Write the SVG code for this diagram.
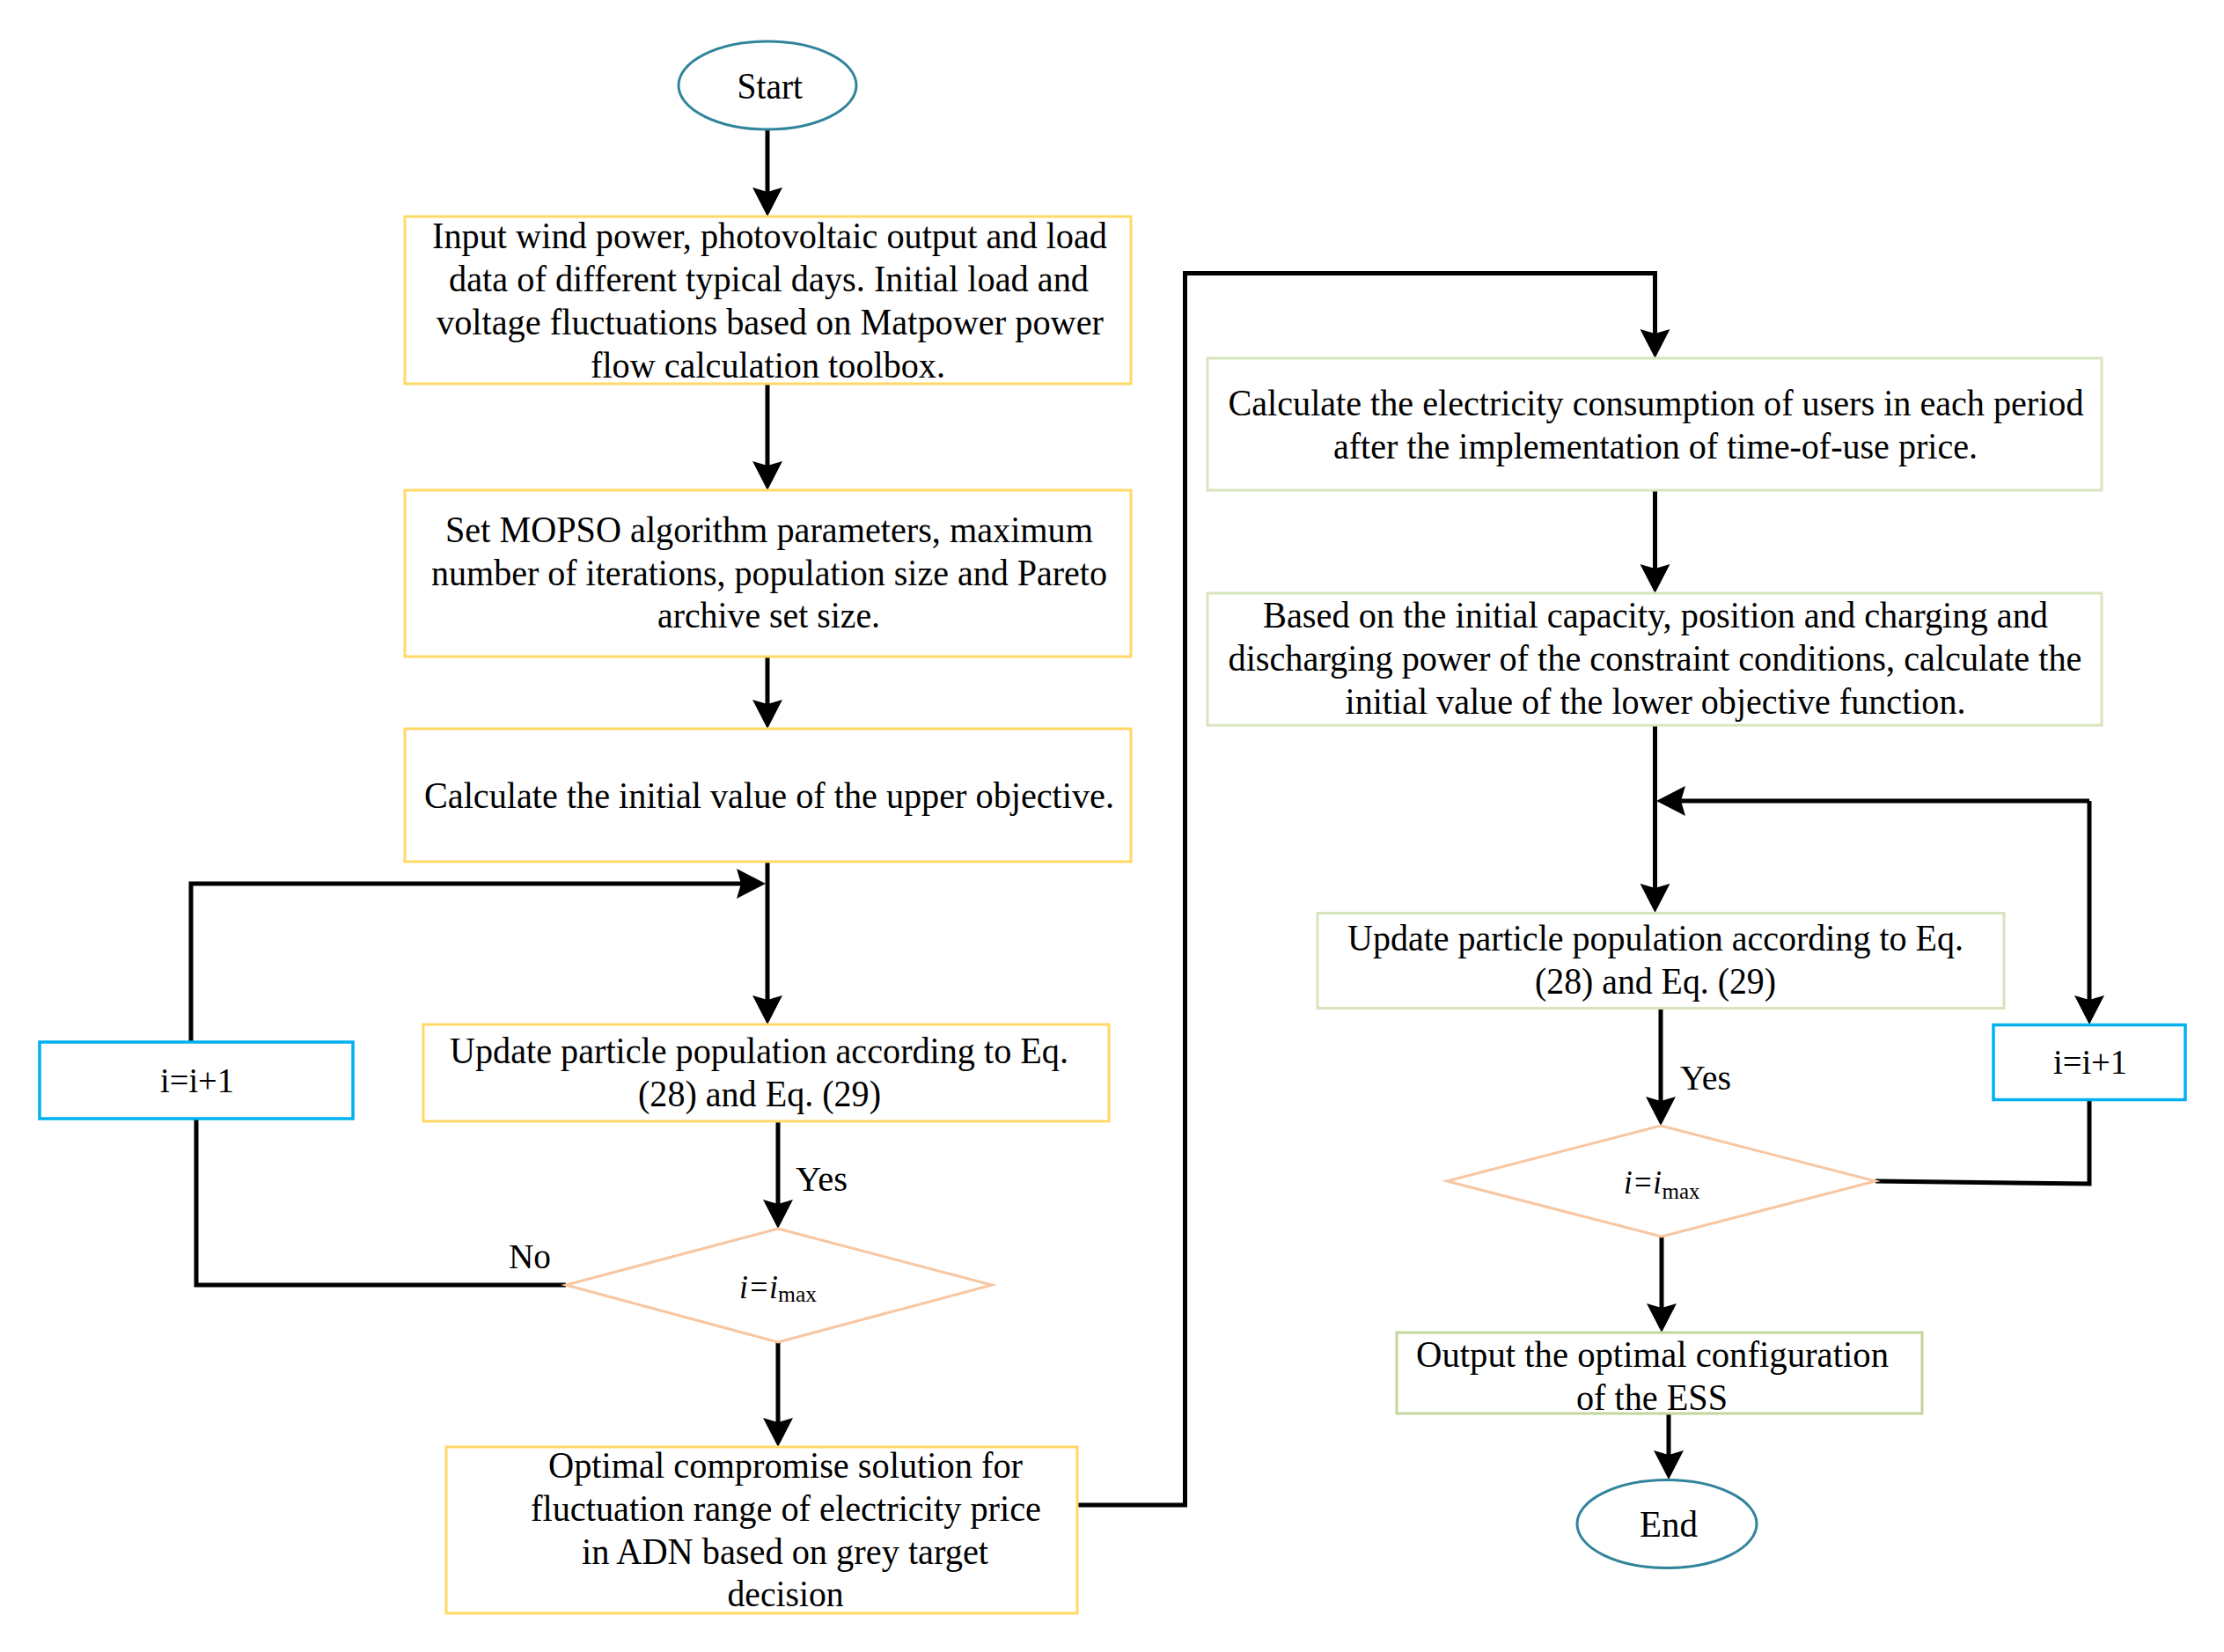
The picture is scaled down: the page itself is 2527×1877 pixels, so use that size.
<svg xmlns="http://www.w3.org/2000/svg" width="2527" height="1877" viewBox="0 0 2527 1877">
<style>
  text { font-family: "Liberation Serif", "Times New Roman", serif; fill: #000; }
  .t { font-size: 42px; }
  .lbl { font-size: 40px; }
  .yel { fill: #fff; stroke: #FFD966; stroke-width: 3; }
  .grn { fill: #fff; stroke: #D7E4BD; stroke-width: 3; }
  .grn2 { fill: #fff; stroke: #C3D69B; stroke-width: 3; }
  .blu { fill: #fff; stroke: #00B0F0; stroke-width: 3.5; }
  .dia { fill: #fff; stroke: #F8C6A0; stroke-width: 3; }
  .ell { fill: #fff; stroke: #31849B; stroke-width: 3; }
  .c { fill: none; stroke: #000; stroke-width: 5; }
  .a { marker-end: url(#ah); }
  .it { font-style: italic; font-size: 38px; }
  .sub { font-size: 26px; }
</style>
<defs>
  <marker id="ah" viewBox="0 0 40 40" markerWidth="40" markerHeight="40" refX="23" refY="17" orient="auto" markerUnits="userSpaceOnUse">
    <path d="M0,0 L33,17 L0,34 L5,17 z" fill="#000"/>
  </marker>
</defs>
<rect width="2527" height="1877" fill="#fff"/>

<g id="connectors">
  <path class="c a" d="M872,147 V236"/>
  <path class="c a" d="M872,436 V547"/>
  <path class="c a" d="M872,746 V818"/>
  <path class="c a" d="M872,979 V1154"/>
  <path class="c a" d="M217,1183 V1004 H860"/>
  <path class="c a" d="M884,1274 V1386"/>
  <path class="c a" d="M884,1525 V1634"/>
  <path class="c" d="M643,1460 H223 V1271"/>
  <path class="c a" d="M1224,1710 H1346.5 V310.5 H1880.5 V397"/>
  <path class="c a" d="M1880.5,557 V664"/>
  <path class="c a" d="M1880.5,824 V1027"/>
  <path class="c a" d="M2374,910 V1154"/>
  <path class="c a" d="M2374,910 H1892"/>
  <path class="c" d="M2131,1342 L2374,1345 V1250"/>
  <path class="c a" d="M1887,1146 V1269"/>
  <path class="c a" d="M1888,1405 V1504"/>
  <path class="c a" d="M1896,1606 V1671"/>
  <text class="lbl" x="904" y="1353" textLength="59" lengthAdjust="spacingAndGlyphs">Yes</text>
  <text class="lbl" x="578" y="1441" textLength="48" lengthAdjust="spacingAndGlyphs">No</text>
  <text class="lbl" x="1909" y="1238" textLength="58" lengthAdjust="spacingAndGlyphs">Yes</text>
</g>

<g id="start">
  <ellipse class="ell" cx="872" cy="97" rx="101" ry="50"/>
  <text class="t" x="837.5" y="112" textLength="74.5" lengthAdjust="spacingAndGlyphs">Start</text>
</g>

<g id="input">
  <rect class="yel" x="460" y="246" width="825" height="190"/>
  <text class="t" x="491" y="282" textLength="767" lengthAdjust="spacingAndGlyphs">Input wind power, photovoltaic output and load</text>
  <text class="t" x="510" y="331" textLength="727" lengthAdjust="spacingAndGlyphs">data of different typical days. Initial load and</text>
  <text class="t" x="496" y="380" textLength="758" lengthAdjust="spacingAndGlyphs">voltage fluctuations based on Matpower power</text>
  <text class="t" x="671" y="429" textLength="403" lengthAdjust="spacingAndGlyphs">flow calculation toolbox.</text>
</g>

<g id="mopso">
  <rect class="yel" x="460" y="557" width="825" height="189"/>
  <text class="t" x="506" y="616" textLength="736" lengthAdjust="spacingAndGlyphs">Set MOPSO algorithm parameters, maximum</text>
  <text class="t" x="490" y="665" textLength="768" lengthAdjust="spacingAndGlyphs">number of iterations, population size and Pareto</text>
  <text class="t" x="747" y="713" textLength="253" lengthAdjust="spacingAndGlyphs">archive set size.</text>
</g>

<g id="upper">
  <rect class="yel" x="460" y="828" width="825" height="151"/>
  <text class="t" x="482" y="918" textLength="784" lengthAdjust="spacingAndGlyphs">Calculate the initial value of the upper objective.</text>
</g>

<g id="update1">
  <rect class="yel" x="481" y="1164" width="779" height="110"/>
  <text class="t" x="511" y="1208" textLength="703" lengthAdjust="spacingAndGlyphs">Update particle population according to Eq.</text>
  <text class="t" x="725" y="1257" textLength="276" lengthAdjust="spacingAndGlyphs">(28) and Eq. (29)</text>
</g>

<g id="inc1">
  <rect class="blu" x="45" y="1184" width="356" height="87"/>
  <text class="lbl" x="182" y="1241" textLength="84" lengthAdjust="spacingAndGlyphs">i=i+1</text>
</g>

<g id="decision1">
  <polygon class="dia" points="884,1396 1127,1460 884,1525 643,1460"/>
  <text class="it" x="840" y="1475" textLength="44" lengthAdjust="spacingAndGlyphs">i=i</text>
  <text class="sub" x="884" y="1479" textLength="44" lengthAdjust="spacingAndGlyphs">max</text>
</g>

<g id="compromise">
  <rect class="yel" x="507" y="1644" width="717" height="189"/>
  <text class="t" x="623" y="1679" textLength="539" lengthAdjust="spacingAndGlyphs">Optimal compromise solution for</text>
  <text class="t" x="603" y="1728" textLength="580" lengthAdjust="spacingAndGlyphs">fluctuation range of electricity price</text>
  <text class="t" x="661" y="1777" textLength="462" lengthAdjust="spacingAndGlyphs">in ADN based on grey target</text>
  <text class="t" x="826.5" y="1825" textLength="132" lengthAdjust="spacingAndGlyphs">decision</text>
</g>

<g id="consumption">
  <rect class="grn" x="1372" y="407" width="1016" height="150"/>
  <text class="t" x="1395.5" y="472" textLength="972" lengthAdjust="spacingAndGlyphs">Calculate the electricity consumption of users in each period</text>
  <text class="t" x="1515" y="521" textLength="732" lengthAdjust="spacingAndGlyphs">after the implementation of time-of-use price.</text>
</g>

<g id="lower">
  <rect class="grn" x="1372" y="674" width="1016" height="150"/>
  <text class="t" x="1435" y="713" textLength="892" lengthAdjust="spacingAndGlyphs">Based on the initial capacity, position and charging and</text>
  <text class="t" x="1395.5" y="762" textLength="970" lengthAdjust="spacingAndGlyphs">discharging power of the constraint conditions, calculate the</text>
  <text class="t" x="1528.5" y="811" textLength="705" lengthAdjust="spacingAndGlyphs">initial value of the lower objective function.</text>
</g>

<g id="update2">
  <rect class="grn" x="1497" y="1037.5" width="780" height="108"/>
  <text class="t" x="1531" y="1080" textLength="700" lengthAdjust="spacingAndGlyphs">Update particle population according to Eq.</text>
  <text class="t" x="1744" y="1129" textLength="274" lengthAdjust="spacingAndGlyphs">(28) and Eq. (29)</text>
</g>

<g id="inc2">
  <rect class="blu" x="2265" y="1164.5" width="218" height="85"/>
  <text class="lbl" x="2333" y="1220" textLength="84" lengthAdjust="spacingAndGlyphs">i=i+1</text>
</g>

<g id="decision2">
  <polygon class="dia" points="1887,1279 2131,1342 1888,1405 1644,1342"/>
  <text class="it" x="1845" y="1356" textLength="43" lengthAdjust="spacingAndGlyphs">i=i</text>
  <text class="sub" x="1888.5" y="1362" textLength="43" lengthAdjust="spacingAndGlyphs">max</text>
</g>

<g id="output">
  <rect class="grn2" x="1587" y="1514" width="597" height="92"/>
  <text class="t" x="1609" y="1553" textLength="537" lengthAdjust="spacingAndGlyphs">Output the optimal configuration</text>
  <text class="t" x="1791" y="1602" textLength="172" lengthAdjust="spacingAndGlyphs">of the ESS</text>
</g>

<g id="end">
  <ellipse class="ell" cx="1894" cy="1731.5" rx="102" ry="50"/>
  <text class="t" x="1863" y="1746" textLength="66" lengthAdjust="spacingAndGlyphs">End</text>
</g>
</svg>
